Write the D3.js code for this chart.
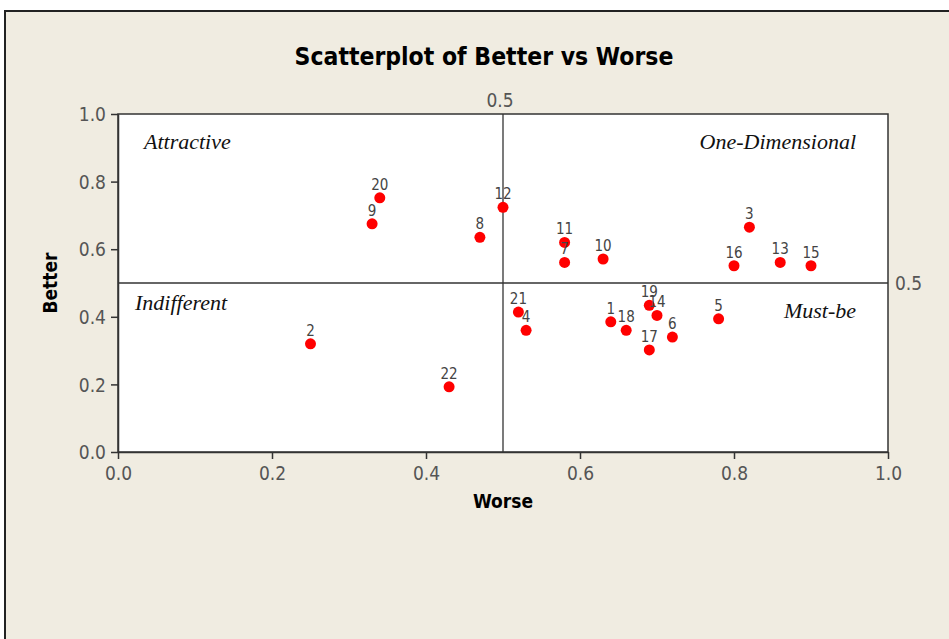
<!DOCTYPE html>
<html><head><meta charset="utf-8">
<script src="https://cdn.jsdelivr.net/npm/d3@7"></script>
<style>
html,body{margin:0;padding:0;background:#fff;}
svg{display:block;}
</style></head>
<body>
<svg id="chart" width="949" height="639"></svg>
<script>
const ids    = [1,2,3,4,5,6,7,8,9,10,11,12,13,14,15,16,17,18,19,20,21,22];
const worse  = [0.64,0.25,0.82,0.53,0.78,0.72,0.58,0.47,0.33,0.63,0.58,0.50,0.86,0.70,0.90,0.80,0.69,0.66,0.69,0.34,0.52,0.43];
const better = [0.385,0.32,0.665,0.36,0.394,0.34,0.561,0.635,0.675,0.571,0.62,0.724,0.561,0.404,0.551,0.551,0.302,0.36,0.434,0.752,0.414,0.193];
const xTicks = [0.0,0.2,0.4,0.6,0.8,1.0];
const yTicks = [0.0,0.2,0.4,0.6,0.8,1.0];
const refX = 0.5, refY = 0.5;
const quadrants = ["Attractive","One-Dimensional","Indifferent","Must-be"];
const title = "Scatterplot of Better vs Worse";
const xTitle = "Worse", yTitle = "Better";

const svg = d3.select("#chart");
svg.append("rect").attr("x",5).attr("y",11).attr("width",960).attr("height",640)
  .attr("fill","#F0ECE1").attr("stroke","#222").attr("stroke-width",2);

const L=118,R=888,T=114,B=452;
const x = d3.scaleLinear().domain([0,1]).range([L,R]);
const y = d3.scaleLinear().domain([0,1]).range([B,T]);

svg.append("rect").attr("x",L).attr("y",T).attr("width",R-L).attr("height",B-T)
  .attr("fill","#fff").attr("stroke","#333").attr("stroke-width",1.5);

const tickFont = "'DejaVu Sans Condensed','DejaVu Sans',sans-serif";
const xAxis = svg.append("g").attr("transform",`translate(0,${B})`)
  .call(d3.axisBottom(x).tickValues(xTicks).tickFormat(d3.format(".1f")).tickSize(7).tickSizeOuter(0));
const yAxis = svg.append("g").attr("transform",`translate(${L},0)`)
  .call(d3.axisLeft(y).tickValues(yTicks).tickFormat(d3.format(".1f")).tickSize(7).tickSizeOuter(0));
[xAxis,yAxis].forEach(g=>{
  g.select(".domain").attr("stroke","#333").attr("stroke-width",1.5);
  g.selectAll(".tick line").attr("stroke","#333").attr("stroke-width",1.5);
  g.selectAll(".tick text").attr("fill","#555").style("font-family",tickFont)
    .style("font-size","19px").style("font-weight","300");
});
xAxis.selectAll(".tick text").attr("dy","0").attr("y",28);
yAxis.selectAll(".tick text").attr("x",-12).attr("dy","0.35em");

svg.append("line").attr("x1",x(refX)).attr("x2",x(refX)).attr("y1",T).attr("y2",B)
  .attr("stroke","#333").attr("stroke-width",1.3);
svg.append("line").attr("x1",L).attr("x2",R).attr("y1",y(refY)).attr("y2",y(refY))
  .attr("stroke","#333").attr("stroke-width",1.3);
svg.append("text").attr("x",x(refX)-3).attr("y",T-7).attr("text-anchor","middle")
  .attr("fill","#555").style("font-family",tickFont).style("font-size","19px").text(d3.format(".1f")(refX));
svg.append("text").attr("x",R+7).attr("y",y(refY)+7).attr("text-anchor","start")
  .attr("fill","#555").style("font-family",tickFont).style("font-size","19px").text(d3.format(".1f")(refY));

svg.append("text").attr("x",484).attr("y",65).attr("text-anchor","middle")
  .style("font-family","'DejaVu Sans Condensed','DejaVu Sans',sans-serif").style("font-weight","bold")
  .style("font-size","24.5px").attr("fill","#000").text(title);
svg.append("text").attr("x",(L+R)/2).attr("y",508).attr("text-anchor","middle")
  .style("font-family","'DejaVu Sans Condensed','DejaVu Sans',sans-serif").style("font-weight","bold")
  .style("font-size","19px").attr("fill","#000").text(xTitle);
svg.append("text").attr("transform",`translate(57,${(T+B)/2}) rotate(-90)`).attr("text-anchor","middle")
  .style("font-family","'DejaVu Sans Condensed','DejaVu Sans',sans-serif").style("font-weight","bold")
  .style("font-size","19px").attr("fill","#000").text(yTitle);

const qf = "'Liberation Serif','Times New Roman',serif";
const qpos = [
  {x:144, y:149, a:"start"},
  {x:856, y:149, a:"end"},
  {x:135, y:310, a:"start"},
  {x:856, y:318, a:"end"}
];
quadrants.forEach((q,i)=>{
  svg.append("text").attr("x",qpos[i].x).attr("y",qpos[i].y).attr("text-anchor",qpos[i].a)
    .style("font-family",qf).style("font-style","italic").style("font-size","22px")
    .attr("fill","#111").text(q);
});

const data = ids.map((id,i)=>({id, w:worse[i], b:better[i]}));
svg.append("g").selectAll("circle").data(data).join("circle")
  .attr("cx",d=>x(d.w)).attr("cy",d=>y(d.b)).attr("r",5.5).attr("fill","#FF0000");
svg.append("g").selectAll("text").data(data).join("text")
  .attr("x",d=>x(d.w)).attr("y",d=>y(d.b)-8).attr("text-anchor","middle")
  .style("font-family",tickFont).style("font-size","15px").attr("fill","#444")
  .text(d=>d.id);
</script>
</body></html>
